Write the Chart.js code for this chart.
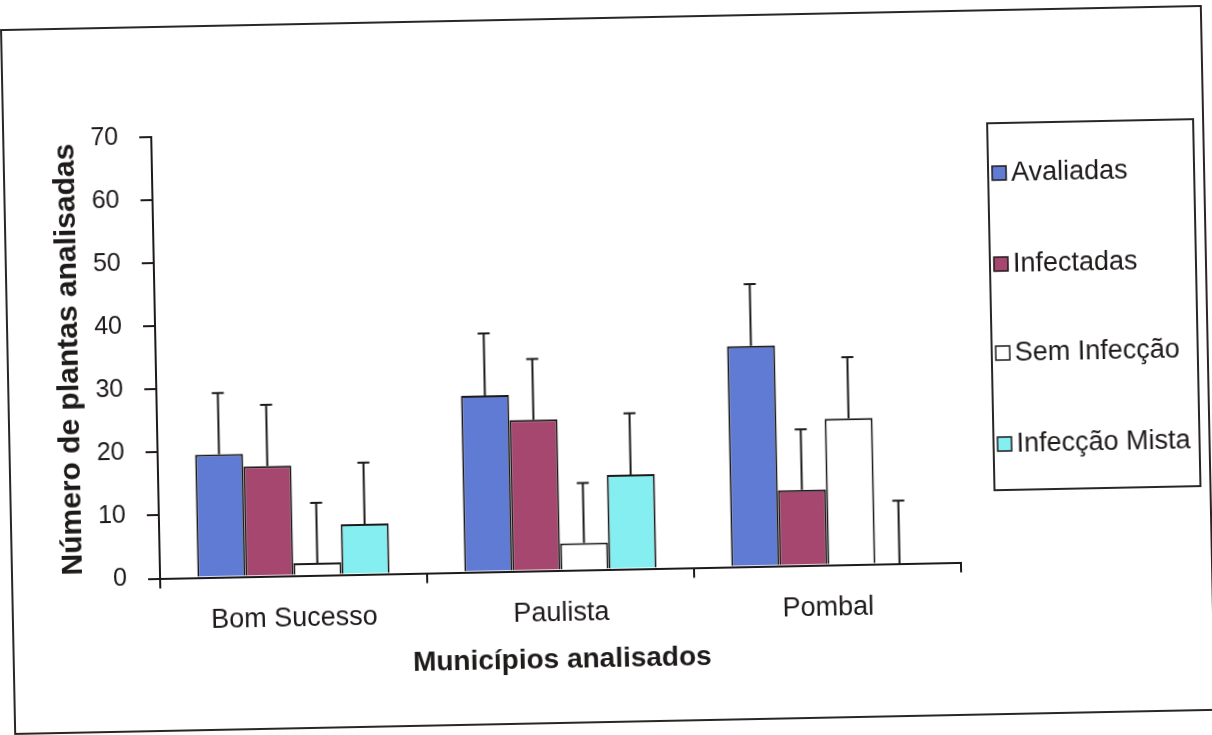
<!DOCTYPE html>
<html>
<head>
<meta charset="utf-8">
<script src="https://cdn.jsdelivr.net/npm/chart.js@4/dist/chart.umd.min.js"></script>
<style>
  html, body { margin: 0; padding: 0; background: #fff; }
  #wrap { width: 1212px; height: 735px; transform: rotate(-1.15deg); transform-origin: 606px 370px; }
</style>
</head>
<body>
<div id="wrap"><canvas id="chart" width="1212" height="735"></canvas></div>
<script>
// dados
let MUNICIPIOS = ["Bom Sucesso", "Paulista", "Pombal"];
let AVALIADAS = [19.5, 28, 35];
let INFECTADAS = [17.5, 24, 12];
let SEM_INFECCAO = [2, 4.3, 23.2];
let INFECCAO_MISTA = [8, 15, 0];

// barras de erro (so para cima)
let ERRO_AVALIADAS = [9.7, 9.8, 9.8];
let ERRO_INFECTADAS = [9.7, 9.6, 9.6];
let ERRO_SEM = [9.5, 9.5, 9.7];
let ERRO_MISTA = [9.7, 9.7, 10];

let Y_TICKS = [0, 10, 20, 30, 40, 50, 60, 70];

let BLUE = "#5f7bd3";
let WINE = "#a6476f";
let WHITE = "#ffffff";
let CYAN = "#85eef0";
let INK = "#1e1a1a";
let FONT = "'Liberation Sans', Arial, sans-serif";

var chartData = {
  labels: MUNICIPIOS,
  datasets: [{
    label: "Avaliadas",
    data: AVALIADAS,
    errors: ERRO_AVALIADAS,
    backgroundColor: BLUE
  }, {
    label: "Infectadas",
    data: INFECTADAS,
    errors: ERRO_INFECTADAS,
    backgroundColor: WINE
  }, {
    label: "Sem Infecção",
    data: SEM_INFECCAO,
    errors: ERRO_SEM,
    backgroundColor: WHITE
  }, {
    label: "Infecção Mista",
    data: INFECCAO_MISTA,
    errors: ERRO_MISTA,
    backgroundColor: CYAN
  }]
};

chartData.datasets.forEach(function (ds) {
  ds.borderColor = INK;
  ds.borderWidth = 2;
  ds.barPercentage = 1;
  ds.categoryPercentage = 0.72;
});

// fundo + moldura externa
var frame = {
  id: "frame",
  beforeDraw: function (chart) {
    var c = chart.ctx;
    c.save();
    c.fillStyle = "#fff";
    c.fillRect(0, 0, chart.width, chart.height);
    c.strokeStyle = "#2a2626";
    c.lineWidth = 2;
    c.strokeRect(8, 18, 1200, 704);
    c.restore();
  }
};

// barras de erro
var errorBars = {
  id: "errorBars",
  afterDatasetsDraw: function (chart) {
    var c = chart.ctx;
    var y = chart.scales.y;
    c.save();
    c.strokeStyle = INK;
    c.lineWidth = 2;
    chart.data.datasets.forEach(function (ds, i) {
      chart.getDatasetMeta(i).data.forEach(function (bar, j) {
        var top = y.getPixelForValue(ds.data[j] + ds.errors[j]);
        c.beginPath();
        c.moveTo(bar.x, bar.y);
        c.lineTo(bar.x, top);
        c.moveTo(bar.x - 6, top);
        c.lineTo(bar.x + 6, top);
        c.stroke();
      });
    });
    c.restore();
  }
};

// legenda em caixa a direita
var boxLegend = {
  id: "boxLegend",
  afterDraw: function (chart) {
    var c = chart.ctx;
    var rows = [181, 272, 361, 452];
    c.save();
    c.strokeStyle = "#2a2626";
    c.lineWidth = 2;
    c.strokeRect(992, 131, 206, 367);
    c.font = "27px " + FONT;
    c.textBaseline = "middle";
    c.fillStyle = INK;
    chart.data.datasets.forEach(function (ds, i) {
      c.fillStyle = ds.backgroundColor;
      c.fillRect(996, rows[i] - 7, 14, 14);
      c.lineWidth = 1.5;
      c.strokeStyle = INK;
      c.strokeRect(996, rows[i] - 7, 14, 14);
      c.fillStyle = INK;
      c.fillText(ds.label, 1015, rows[i] + 1);
    });
    c.restore();
  }
};

var ctx = document.getElementById("chart").getContext("2d");
var barChart = new Chart(ctx, {
  type: "bar",
  data: chartData,
  plugins: [frame, errorBars, boxLegend],
  options: {
    responsive: false,
    animation: false,
    layout: { padding: { left: 0, top: 128, right: 255, bottom: 0 } },
    plugins: {
      legend: { display: false },
      tooltip: { enabled: false }
    },
    scales: {
      x: {
        afterFit: function (s) { s.height = 165.5; },
        grid: { offset: true, drawOnChartArea: false, color: INK, lineWidth: 2, tickLength: 10 },
        border: { color: INK, width: 2 },
        ticks: { color: INK, padding: 17, font: { family: FONT, size: 27 } },
        title: {
          display: true,
          text: "Municípios analisados",
          color: INK,
          padding: { top: 0, bottom: 59 },
          font: { family: FONT, size: 28, weight: "bold" }
        }
      },
      y: {
        min: 0,
        max: 70,
        afterFit: function (s) { s.width = 156; },
        afterBuildTicks: function (s) { s.ticks = Y_TICKS.map(function (v) { return { value: v }; }); },
        grid: { drawOnChartArea: false, color: INK, lineWidth: 2, tickLength: 12 },
        border: { color: INK, width: 2 },
        ticks: { color: INK, padding: 21, font: { family: FONT, size: 25 } },
        title: {
          display: true,
          text: "Número de plantas analisadas",
          color: INK,
          padding: { top: 52, bottom: 0 },
          font: { family: FONT, size: 30, weight: "bold" }
        }
      }
    }
  }
});
</script>
</body>
</html>
